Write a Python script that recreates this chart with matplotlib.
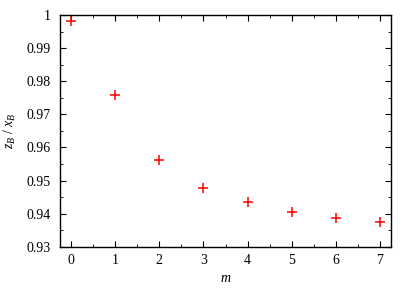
import matplotlib
matplotlib.use("Agg")
import matplotlib.pyplot as plt
from matplotlib.ticker import MultipleLocator

m = [0, 1, 2, 3, 4, 5, 6, 7]
ratio = [0.9983, 0.9757, 0.9563, 0.9477, 0.9434, 0.9406, 0.9388, 0.9375]

plt.rcParams["font.family"] = ["Liberation Serif", "DejaVu Serif"]
plt.rcParams["mathtext.fontset"] = "custom"
plt.rcParams["mathtext.it"] = "Liberation Serif:italic"
plt.rcParams["mathtext.rm"] = "Liberation Serif"

fig = plt.figure(figsize=(4.15, 2.9), dpi=100)
ax = fig.add_axes([60 / 415, 43.3 / 290, 331 / 415, 231.7 / 290])
ax.plot(m, ratio, "+", color="red", markersize=7, markeredgewidth=1.1)

ax.set_xlim(-0.25, 7.25)
ax.set_ylim(0.93, 1.0)
ax.xaxis.set_major_locator(MultipleLocator(1))
ax.xaxis.set_minor_locator(MultipleLocator(0.5))
ax.yaxis.set_minor_locator(MultipleLocator(0.005))
ax.set_yticks([0.93, 0.94, 0.95, 0.96, 0.97, 0.98, 0.99, 1.0])
ax.set_yticklabels(["0.93", "0.94", "0.95", "0.96", "0.97", "0.98", "0.99", "1"])
ax.tick_params(which="both", direction="in", top=True, right=True, labelsize=10)
ax.tick_params(axis="x", pad=5)
ax.tick_params(axis="y", pad=7)
ax.tick_params(which="major", length=4, width=0.8)
ax.tick_params(which="minor", length=2, width=0.6)
for s in ax.spines.values():
    s.set_linewidth(1.0)

ax.set_xlabel(r"$m$", fontsize=10, labelpad=4)
ax.set_ylabel(r"$z_B\ /\ x_B$", fontsize=10, labelpad=6)

fig.savefig("out.png", dpi=100)
